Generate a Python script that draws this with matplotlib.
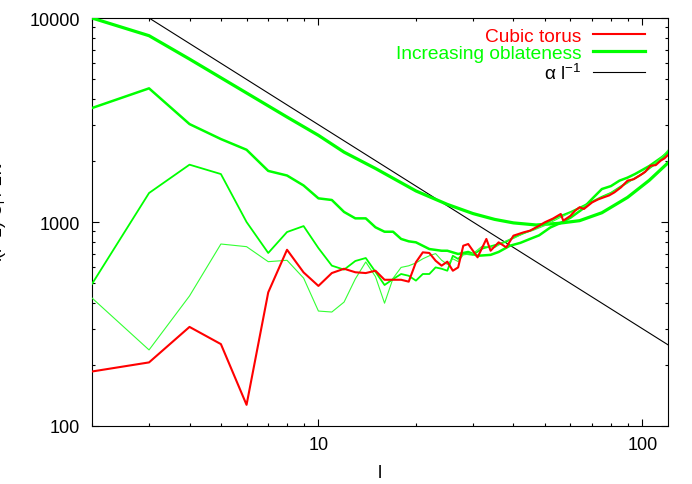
import matplotlib
matplotlib.use("Agg")
import matplotlib.pyplot as plt
import numpy as np
from matplotlib.ticker import LogLocator, NullFormatter, FixedLocator, FixedFormatter

plt.rcParams['font.family'] = ['Liberation Sans', 'DejaVu Sans']

# Smooth thick green curve (most oblate)
l_a = [2, 3, 4, 6, 8, 10, 12, 15, 20, 25, 30, 35, 40, 47, 55, 64, 75, 90, 105, 120]
c_a = [10000, 8190, 6290, 4290, 3270, 2660, 2200, 1830, 1420, 1220, 1100, 1030, 990, 967, 985, 1015, 1110, 1320, 1600, 1950]

# Second green curve
l_b = [2, 3, 4, 5, 6, 7, 8, 9, 10, 11, 12, 13, 14, 15, 16, 17, 18, 19, 20, 22, 24, 25, 27, 29,
       31, 34, 36, 39, 42, 45, 48, 52, 56, 60, 65, 70, 75, 80, 85, 90, 95, 100, 105, 110, 115, 120]
c_b = [3620, 4520, 3020, 2550, 2260, 1780, 1690, 1510, 1306, 1282, 1120, 1042, 1042, 942, 896, 896,
       826, 804, 795, 737, 723, 723, 697, 713, 683, 690, 713, 765, 790, 826, 860, 940, 990, 1050,
       1150, 1300, 1451, 1500, 1595, 1650, 1720, 1800, 1880, 1980, 2080, 2200]

# Third green curve
l_c = [2, 3, 4, 5, 6, 7, 8, 9, 10, 11, 12, 13, 14, 15, 16, 17, 18, 19, 20, 21, 22, 23, 24, 25, 26,
       27, 28, 30, 32, 35, 38, 40, 43, 46, 50, 55, 60, 65, 70, 75, 80, 85, 90, 95, 100, 105, 110, 115, 120]
c_c = [497, 1387, 1910, 1718, 1000, 705, 893, 955, 745, 611, 584, 644, 666, 570, 491, 525, 556, 545,
       516, 556, 556, 599, 590, 577, 683, 659, 700, 690, 740, 770, 800, 840, 880, 920, 980, 1060, 1120,
       1190, 1260, 1330, 1390, 1480, 1570, 1640, 1720, 1830, 1930, 2040, 2200]

# Fourth (thin) green curve
l_d = [2, 3, 4, 5, 6, 7, 8, 9, 10, 11, 12, 13, 14, 15, 16, 17, 18, 19, 20, 21, 22, 23, 24, 25, 26,
       27, 28, 30, 32, 35, 38, 40, 43, 46, 50, 55, 60, 65, 70, 75, 80, 85, 90, 95, 100, 105, 110, 115, 120]
c_d = [424, 236, 434, 780, 757, 639, 649, 531, 366, 362, 405, 526, 637, 540, 400, 530, 599, 610, 630,
       660, 683, 700, 650, 620, 660, 640, 690, 700, 760, 750, 810, 830, 880, 910, 960, 1040, 1110, 1180,
       1250, 1320, 1390, 1470, 1550, 1650, 1730, 1840, 1960, 2080, 2250]

# Cubic torus
l_r = [2, 3, 4, 5, 6, 7, 8, 9, 10, 11, 12, 13, 14, 15, 16, 17, 18, 19, 20, 21, 22, 23, 24, 25, 26, 27,
       28, 29, 31, 33, 34, 36, 38, 40, 43, 45, 48, 50, 53, 56, 57, 60, 62, 64, 66, 70, 73, 76, 79, 82,
       86, 90, 94, 98, 102, 106, 110, 114, 117, 120]
c_r = [185, 205, 306, 252, 127, 452, 731, 566, 486, 562, 590, 567, 562, 577, 521, 521, 521, 510, 635,
       710, 705, 646, 611, 639, 577, 599, 765, 780, 671, 826, 723, 795, 751, 857, 890, 907, 959, 997,
       1040, 1095, 1015, 1073, 1136, 1181, 1158, 1248, 1290, 1321, 1350, 1397, 1480, 1595, 1620, 1687,
       1760, 1888, 1900, 2000, 2050, 2130]

# Power law reference  alpha l^-1
l_k = [3, 120]
c_k = [10000, 250]

fig = plt.figure(figsize=(6.92, 4.85), dpi=100)
ax = fig.add_axes([92/692, 1 - 427/485, (668-92)/692, (427-19)/485])

green = '#00ff00'
ax.plot(l_r, c_r, color='#ff0000', lw=1.5, label='Cubic torus', zorder=5)
ax.plot(l_a, c_a, color=green, lw=2.3, label='Increasing oblateness', zorder=4)
ax.plot(l_b, c_b, color=green, lw=1.8, zorder=4)
ax.plot(l_c, c_c, color=green, lw=1.3, zorder=4)
ax.plot(l_d, c_d, color='#33ff33', lw=0.8, zorder=4)
ax.plot(l_k, c_k, color='black', lw=0.8, label=r'α l$^{\mathregular{-1}}$', zorder=3)

ax.set_xscale('log')
ax.set_yscale('log')
ax.set_xlim(2, 120)
ax.set_ylim(100, 10000)

ax.xaxis.set_major_locator(FixedLocator([10, 100]))
ax.xaxis.set_major_formatter(FixedFormatter(['10', '100']))
ax.xaxis.set_minor_locator(LogLocator(base=10, subs=np.arange(2, 10)))
ax.xaxis.set_minor_formatter(NullFormatter())
ax.yaxis.set_major_locator(FixedLocator([100, 1000, 10000]))
ax.yaxis.set_major_formatter(FixedFormatter(['100', '1000', '10000']))
ax.yaxis.set_minor_locator(LogLocator(base=10, subs=np.arange(2, 10)))
ax.yaxis.set_minor_formatter(NullFormatter())

ax.tick_params(which='both', direction='in', top=True, right=True, width=0.8, labelsize=13)
ax.tick_params(which='major', length=4.7)
ax.tick_params(which='minor', length=2.4)
ax.tick_params(axis='y', which='major', pad=8.5)
ax.tick_params(axis='x', which='major', pad=7)
for s in ax.spines.values():
    s.set_linewidth(0.8)

ax.set_xlabel('l', fontsize=13, labelpad=8)
fig.text(-2.5/692, 1 - 212/485, r'l(l+1) C$_\mathregular{l}$ / 2π', rotation=90,
         ha='center', va='center', fontsize=13)

leg = ax.legend(loc='upper right', frameon=False, markerfirst=False, fontsize=13.8,
                labelcolor='linecolor', handlelength=2.7, handletextpad=0.6,
                labelspacing=0.0, borderaxespad=0.5, bbox_to_anchor=(0.99, 1.02))

fig.savefig('out.png', dpi=100)
